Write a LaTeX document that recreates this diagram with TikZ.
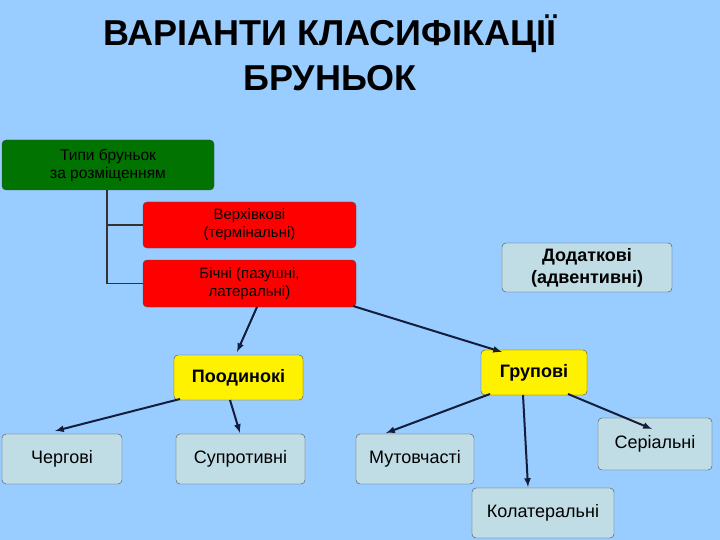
\documentclass[tikz,border=0pt]{standalone}
\usepackage{fontspec}
\setmainfont{Liberation Sans}
\definecolor{bgc}{RGB}{153,204,255}
\definecolor{grayb}{RGB}{192,220,228}
\definecolor{arrc}{RGB}{20,30,60}
\begin{document}
\begin{tikzpicture}[x=1pt,y=-1pt,
 box/.style={draw=black!70,rounded corners=4pt,inner sep=0pt,align=center},
 gbox/.style={box,fill=green!45!black,font=\fontsize{15.5}{18}\selectfont},
 rbox/.style={box,fill=red,font=\fontsize{15}{18}\selectfont},
 ybox/.style={box,fill=yellow,font=\bfseries\fontsize{18}{20}\selectfont},
 bbox/.style={box,fill=grayb,font=\fontsize{18}{22}\selectfont},
 arr/.style={draw=arrc,line width=2pt,-latex}]
\fill[bgc] (0,0) rectangle (720,540);
\useasboundingbox (0,0) rectangle (720,540);
\node[font=\bfseries\fontsize{36}{45}\selectfont,align=center] (title) at (330,53) {ВАРІАНТИ КЛАСИФІКАЦІЇ\\БРУНЬОК};
\node[gbox,minimum width=212pt,minimum height=50pt] (t) at (108,165) {Типи бруньок\\за розміщенням};
\node[rbox,minimum width=213pt,minimum height=46pt] (v) at (249.5,225) {Верхівкові\\(термінальні)};
\node[rbox,minimum width=213pt,minimum height=47pt] (b) at (249.5,283.5) {Бічні (пазушні,\\латеральні)};
\node[bbox,minimum width=170pt,minimum height=49pt,font=\bfseries\fontsize{18}{22}\selectfont] (d) at (587,267.5) {Додаткові\\(адвентивні)};
\node[ybox,minimum width=129pt,minimum height=45pt] (p) at (238.5,377.5) {Поодинокі};
\node[ybox,minimum width=106pt,minimum height=45pt] (g) at (534,372.5) {Групові};
\node[bbox,minimum width=120pt,minimum height=50pt] (ch) at (62,459) {Чергові};
\node[bbox,minimum width=129pt,minimum height=50pt] (s) at (240.5,459) {Супротивні};
\node[bbox,minimum width=118pt,minimum height=50pt] (m) at (415,459) {Мутовчасті};
\node[bbox,minimum width=114pt,minimum height=52pt] (se) at (655,444) {Серіальні};
\node[bbox,minimum width=142pt,minimum height=50pt] (k) at (543,513) {Колатеральні};
\coordinate (tb) at (107,190);
\draw[line width=1.5pt,black!80] (tb) |- (b.west);
\draw[line width=1.5pt,black!80] (107,225) -- (v.west);
\draw[arr] (257,307) -- (237,352);
\draw[arr] (353,306) -- (502,352);
\draw[arr] (180,399) -- (55,431);
\draw[arr] (230,400) -- (240,433);
\draw[arr] (490,394) -- (386,433);
\draw[arr] (523,395) -- (528,487);
\draw[arr] (568,394) -- (652,429);
\end{tikzpicture}
\end{document}
